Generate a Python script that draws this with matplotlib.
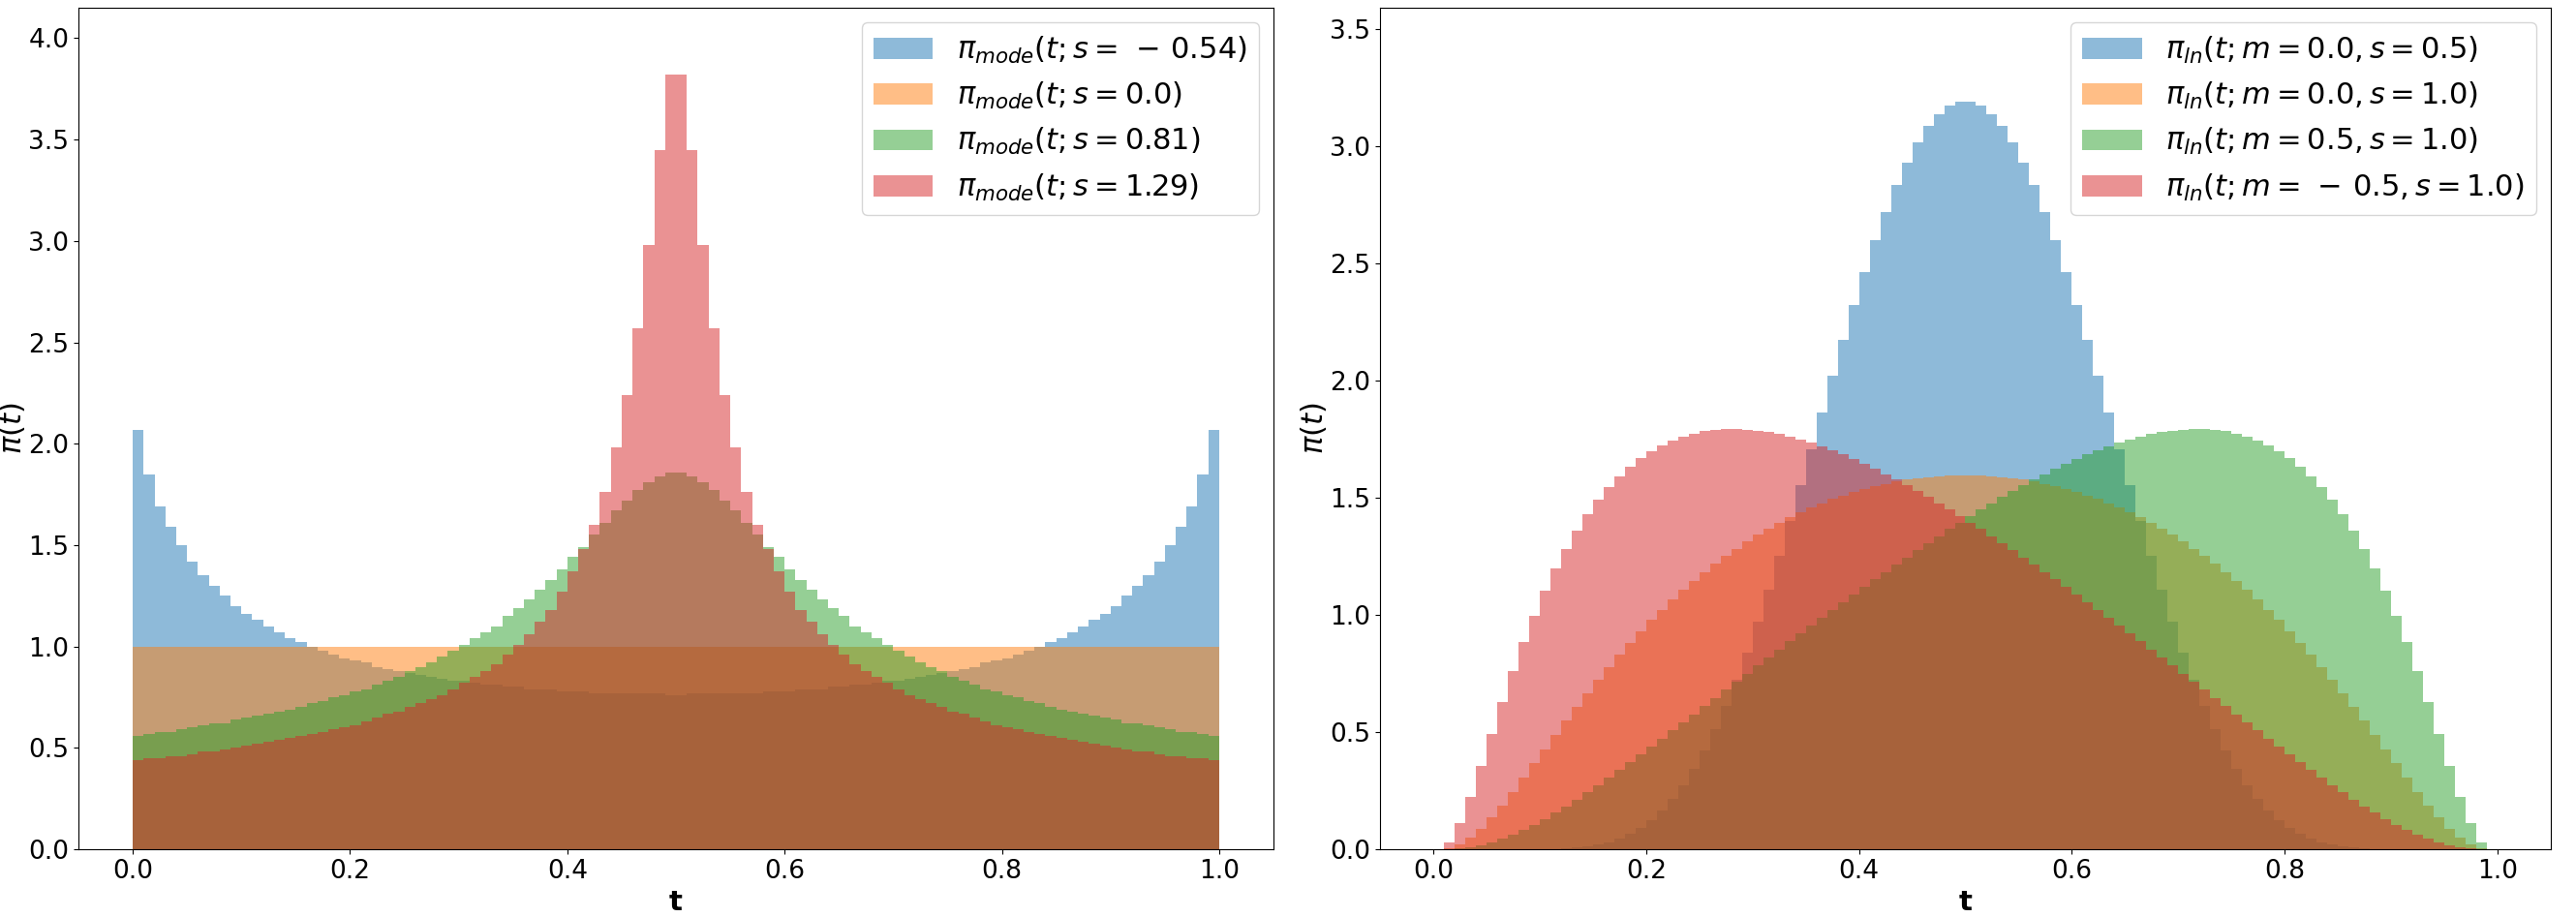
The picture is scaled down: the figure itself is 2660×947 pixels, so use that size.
import numpy as np
import matplotlib
matplotlib.use("Agg")
import matplotlib.pyplot as plt

# ---------------- data (100 bins on [0, 1]) ----------------
bin_edges = np.linspace(0.0, 1.0, 101)
bin_centers = 0.5 * (bin_edges[:-1] + bin_edges[1:])

# Left panel: mode sampling densities
mode_labels = [r"$\pi_{mode}(t; s = \,-\,0.54)$", r"$\pi_{mode}(t; s = 0.0)$",
               r"$\pi_{mode}(t; s = 0.81)$", r"$\pi_{mode}(t; s = 1.29)$"]

mode_s_neg054 = [
    2.07, 1.85, 1.69, 1.59, 1.50, 1.42, 1.35, 1.30, 1.25, 1.20,
    1.16, 1.13, 1.10, 1.07, 1.04, 1.02, 1.00, 0.98, 0.96, 0.94,
    0.93, 0.92, 0.90, 0.89, 0.88, 0.87, 0.86, 0.85, 0.84, 0.83,
    0.83, 0.82, 0.81, 0.81, 0.80, 0.80, 0.79, 0.79, 0.79, 0.78,
    0.78, 0.78, 0.77, 0.77, 0.77, 0.77, 0.77, 0.77, 0.77, 0.76,
    0.76, 0.77, 0.77, 0.77, 0.77, 0.77, 0.77, 0.77, 0.78, 0.78,
    0.78, 0.79, 0.79, 0.79, 0.80, 0.80, 0.81, 0.81, 0.82, 0.83,
    0.83, 0.84, 0.85, 0.86, 0.87, 0.88, 0.89, 0.90, 0.92, 0.93,
    0.94, 0.96, 0.98, 1.00, 1.02, 1.04, 1.07, 1.10, 1.13, 1.16,
    1.20, 1.25, 1.30, 1.35, 1.42, 1.50, 1.59, 1.69, 1.85, 2.07]

mode_s_000 = [
    1.00, 1.00, 1.00, 1.00, 1.00, 1.00, 1.00, 1.00, 1.00, 1.00,
    1.00, 1.00, 1.00, 1.00, 1.00, 1.00, 1.00, 1.00, 1.00, 1.00,
    1.00, 1.00, 1.00, 1.00, 1.00, 1.00, 1.00, 1.00, 1.00, 1.00,
    1.00, 1.00, 1.00, 1.00, 1.00, 1.00, 1.00, 1.00, 1.00, 1.00,
    1.00, 1.00, 1.00, 1.00, 1.00, 1.00, 1.00, 1.00, 1.00, 1.00,
    1.00, 1.00, 1.00, 1.00, 1.00, 1.00, 1.00, 1.00, 1.00, 1.00,
    1.00, 1.00, 1.00, 1.00, 1.00, 1.00, 1.00, 1.00, 1.00, 1.00,
    1.00, 1.00, 1.00, 1.00, 1.00, 1.00, 1.00, 1.00, 1.00, 1.00,
    1.00, 1.00, 1.00, 1.00, 1.00, 1.00, 1.00, 1.00, 1.00, 1.00,
    1.00, 1.00, 1.00, 1.00, 1.00, 1.00, 1.00, 1.00, 1.00, 1.00]

mode_s_081 = [
    0.56, 0.57, 0.58, 0.58, 0.59, 0.60, 0.61, 0.62, 0.62, 0.64,
    0.65, 0.66, 0.67, 0.68, 0.69, 0.70, 0.72, 0.73, 0.75, 0.76,
    0.78, 0.79, 0.81, 0.83, 0.85, 0.88, 0.90, 0.92, 0.95, 0.98,
    1.01, 1.04, 1.07, 1.10, 1.15, 1.19, 1.23, 1.28, 1.33, 1.38,
    1.44, 1.49, 1.55, 1.61, 1.67, 1.72, 1.77, 1.81, 1.84, 1.86,
    1.86, 1.84, 1.81, 1.77, 1.72, 1.67, 1.61, 1.55, 1.49, 1.44,
    1.38, 1.33, 1.28, 1.23, 1.19, 1.15, 1.10, 1.07, 1.04, 1.01,
    0.98, 0.95, 0.92, 0.90, 0.88, 0.85, 0.83, 0.81, 0.79, 0.78,
    0.76, 0.75, 0.73, 0.72, 0.70, 0.69, 0.68, 0.67, 0.66, 0.65,
    0.64, 0.62, 0.62, 0.61, 0.60, 0.59, 0.58, 0.58, 0.57, 0.56]

mode_s_129 = [
    0.44, 0.45, 0.45, 0.46, 0.46, 0.47, 0.48, 0.48, 0.49, 0.50,
    0.51, 0.52, 0.53, 0.54, 0.55, 0.56, 0.57, 0.58, 0.59, 0.60,
    0.61, 0.63, 0.65, 0.67, 0.68, 0.70, 0.72, 0.74, 0.76, 0.79,
    0.82, 0.85, 0.88, 0.91, 0.96, 1.01, 1.06, 1.12, 1.18, 1.27,
    1.37, 1.48, 1.60, 1.76, 1.98, 2.24, 2.57, 2.98, 3.45, 3.82,
    3.82, 3.45, 2.98, 2.57, 2.24, 1.98, 1.76, 1.60, 1.48, 1.37,
    1.27, 1.18, 1.12, 1.06, 1.01, 0.96, 0.91, 0.88, 0.85, 0.82,
    0.79, 0.76, 0.74, 0.72, 0.70, 0.68, 0.67, 0.65, 0.63, 0.61,
    0.60, 0.59, 0.58, 0.57, 0.56, 0.55, 0.54, 0.53, 0.52, 0.51,
    0.50, 0.49, 0.48, 0.48, 0.47, 0.46, 0.46, 0.45, 0.45, 0.44]

# Right panel: logit-normal densities
ln_labels = [r"$\pi_{ln}(t; m = 0.0, s = 0.5)$", r"$\pi_{ln}(t; m = 0.0, s = 1.0)$",
             r"$\pi_{ln}(t; m = 0.5, s = 1.0)$", r"$\pi_{ln}(t; m = \,-\,0.5, s = 1.0)$"]

ln_m00_s05 = [
    0.0000, 0.0000, 0.0000, 0.0000, 0.0000, 0.0000, 0.0000, 0.0000, 0.0001, 0.0004,
    0.0009, 0.0019, 0.0037, 0.0069, 0.0119, 0.0194, 0.0301, 0.0451, 0.0651, 0.0912,
    0.1243, 0.1652, 0.2146, 0.2736, 0.3423, 0.4213, 0.5112, 0.6111, 0.7212, 0.8405,
    0.9694, 1.106, 1.250, 1.399, 1.552, 1.708, 1.865, 2.021, 2.173, 2.321,
    2.463, 2.597, 2.719, 2.832, 2.930, 3.015, 3.084, 3.136, 3.172, 3.190,
    3.190, 3.172, 3.136, 3.084, 3.015, 2.930, 2.832, 2.719, 2.597, 2.463,
    2.321, 2.173, 2.021, 1.865, 1.708, 1.552, 1.399, 1.250, 1.106, 0.9694,
    0.8405, 0.7212, 0.6111, 0.5112, 0.4213, 0.3423, 0.2736, 0.2146, 0.1652, 0.1243,
    0.0912, 0.0651, 0.0451, 0.0301, 0.0194, 0.0119, 0.0069, 0.0037, 0.0019, 0.0009,
    0.0004, 0.0001, 0.0000, 0.0000, 0.0000, 0.0000, 0.0000, 0.0000, 0.0000, 0.0000]

ln_m00_s10 = [
    0.0001, 0.0043, 0.0199, 0.0483, 0.0873, 0.1345, 0.1877, 0.2449, 0.3048, 0.3658,
    0.4274, 0.4888, 0.5493, 0.6084, 0.6667, 0.7230, 0.7777, 0.8302, 0.8810, 0.9300,
    0.9771, 1.0220, 1.0647, 1.1056, 1.1447, 1.1818, 1.2173, 1.2508, 1.2823, 1.3122,
    1.3406, 1.3672, 1.3920, 1.4155, 1.4372, 1.4575, 1.4767, 1.4940, 1.5096, 1.5244,
    1.5374, 1.5491, 1.5594, 1.5686, 1.5763, 1.5827, 1.5879, 1.5916, 1.5943, 1.5955,
    1.5955, 1.5943, 1.5916, 1.5879, 1.5827, 1.5763, 1.5686, 1.5594, 1.5491, 1.5374,
    1.5244, 1.5096, 1.4940, 1.4767, 1.4575, 1.4372, 1.4155, 1.3920, 1.3672, 1.3406,
    1.3122, 1.2823, 1.2508, 1.2173, 1.1818, 1.1447, 1.1056, 1.0647, 1.0220, 0.9771,
    0.9300, 0.8810, 0.8302, 0.7777, 0.7230, 0.6667, 0.6084, 0.5493, 0.4888, 0.4274,
    0.3658, 0.3048, 0.2449, 0.1877, 0.1345, 0.0873, 0.0483, 0.0199, 0.0043, 0.0001]

ln_m05_s10 = [
    0.0000, 0.0005, 0.0028, 0.0081, 0.0167, 0.0286, 0.0436, 0.0615, 0.0820, 0.1046,
    0.1291, 0.1555, 0.1832, 0.2122, 0.2423, 0.2734, 0.3051, 0.3374, 0.3704, 0.4040,
    0.4379, 0.4720, 0.5063, 0.5407, 0.5753, 0.6102, 0.6449, 0.6797, 0.7145, 0.7491,
    0.7837, 0.8182, 0.8524, 0.8866, 0.9203, 0.9543, 0.9880, 1.0213, 1.0541, 1.0871,
    1.1194, 1.1515, 1.1831, 1.2146, 1.2454, 1.2762, 1.3065, 1.3360, 1.3655, 1.3939,
    1.4221, 1.4498, 1.4766, 1.5031, 1.5288, 1.5534, 1.5777, 1.6008, 1.6231, 1.6445,
    1.6649, 1.6838, 1.7020, 1.7189, 1.7338, 1.7476, 1.7600, 1.7704, 1.7790, 1.7860,
    1.7902, 1.7924, 1.7922, 1.7890, 1.7827, 1.7733, 1.7603, 1.7440, 1.7230, 1.6977,
    1.6677, 1.6320, 1.5910, 1.5436, 1.4900, 1.4288, 1.3596, 1.2820, 1.1960, 1.1010,
    0.9960, 0.8824, 0.7587, 0.6280, 0.4920, 0.3549, 0.2236, 0.1097, 0.0304, 0.0008]

ln_mneg05_s10 = [
    0.0008, 0.0304, 0.1097, 0.2236, 0.3549, 0.4920, 0.6280, 0.7587, 0.8824, 0.9960,
    1.1010, 1.1960, 1.2820, 1.3596, 1.4288, 1.4900, 1.5436, 1.5910, 1.6320, 1.6677,
    1.6977, 1.7230, 1.7440, 1.7603, 1.7733, 1.7827, 1.7890, 1.7922, 1.7924, 1.7902,
    1.7860, 1.7790, 1.7704, 1.7600, 1.7476, 1.7338, 1.7189, 1.7020, 1.6838, 1.6649,
    1.6445, 1.6231, 1.6008, 1.5777, 1.5534, 1.5288, 1.5031, 1.4766, 1.4498, 1.4221,
    1.3939, 1.3655, 1.3360, 1.3065, 1.2762, 1.2454, 1.2146, 1.1831, 1.1515, 1.1194,
    1.0871, 1.0541, 1.0213, 0.9880, 0.9543, 0.9203, 0.8866, 0.8524, 0.8182, 0.7837,
    0.7491, 0.7145, 0.6797, 0.6449, 0.6102, 0.5753, 0.5407, 0.5063, 0.4720, 0.4379,
    0.4040, 0.3704, 0.3374, 0.3051, 0.2734, 0.2423, 0.2122, 0.1832, 0.1555, 0.1291,
    0.1046, 0.0820, 0.0615, 0.0436, 0.0286, 0.0167, 0.0081, 0.0028, 0.0005, 0.0000]

tick_fs = 19
label_fs = 21
legend_fs = 22

fig = plt.figure(figsize=(26.6, 9.47), dpi=100)
ax1 = fig.add_axes([81 / 2660, 70 / 947, 1234 / 2660, 869 / 947])
ax2 = fig.add_axes([1425 / 2660, 70 / 947, 1209 / 2660, 869 / 947])

for series, lab in zip([mode_s_neg054, mode_s_000, mode_s_081, mode_s_129], mode_labels):
    ax1.hist(bin_centers, bins=bin_edges, weights=series, alpha=0.5, label=lab)

for series, lab in zip([ln_m00_s05, ln_m00_s10, ln_m05_s10, ln_mneg05_s10], ln_labels):
    ax2.hist(bin_centers, bins=bin_edges, weights=series, alpha=0.5, label=lab)

ax1.set_ylim(0, 4.15)
ax2.set_ylim(0, 3.59)

for ax in (ax1, ax2):
    ax.set_xlim(-0.05, 1.05)
    ax.set_xticks([0.0, 0.2, 0.4, 0.6, 0.8, 1.0])
    ax.tick_params(axis="both", labelsize=tick_fs)
    ax.set_xlabel("t", fontsize=label_fs, fontweight="bold")
    ax.set_ylabel(r"$\pi(t)$", fontsize=label_fs + 1, fontweight="bold", labelpad=1)
    ax.legend(loc="upper right", fontsize=legend_fs)

fig.savefig("out.png", dpi=100)
